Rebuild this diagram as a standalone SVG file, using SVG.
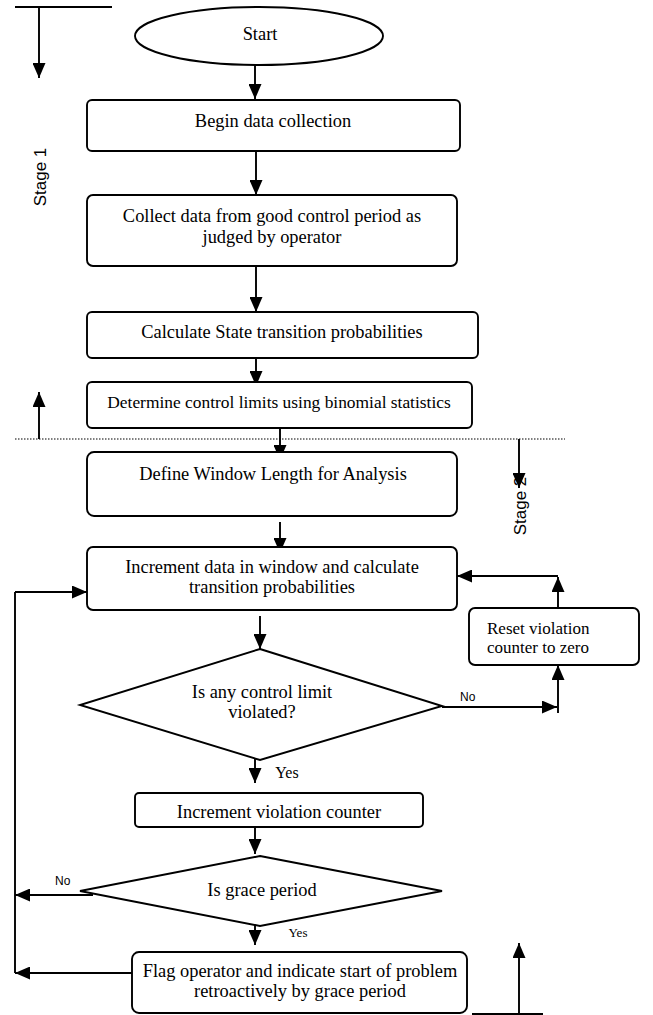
<svg xmlns="http://www.w3.org/2000/svg" width="653" height="1015" viewBox="0 0 653 1015">
<defs>
<style>
.box{fill:#fff;stroke:#000;stroke-width:1.9}
.ln{fill:none;stroke:#000;stroke-width:1.9}
.t{font-family:"Liberation Serif","Times New Roman",serif;font-size:18.4px;fill:#000;text-anchor:middle}
.tl{text-anchor:start;font-size:17px}
.s{font-family:"Liberation Sans",Arial,sans-serif;fill:#000}
</style>
<marker id="ah" viewBox="0 0 15 13" refX="15" refY="6.5" markerWidth="15" markerHeight="13" markerUnits="userSpaceOnUse" orient="auto">
<path d="M0,0 L15,6.5 L0,13 Z" fill="#000"/>
</marker>
</defs>
<rect width="653" height="1015" fill="#fff"/>

<g id="connectors">
<path class="ln" d="M15,7 H112"/>
<path class="ln" d="M39,7 V78" marker-end="url(#ah)"/>
<path class="ln" d="M255,53 V99" marker-end="url(#ah)"/>
<path class="ln" d="M256,151 V195" marker-end="url(#ah)"/>
<path class="ln" d="M256,266 V312" marker-end="url(#ah)"/>
<path class="ln" d="M256,358 V386" marker-end="url(#ah)"/>
<path class="ln" d="M15,439 H565" stroke-dasharray="1.5,1.5" style="stroke-width:1.2"/>
<path class="ln" d="M39,439 V392" marker-end="url(#ah)"/>
<path class="ln" d="M280,428 V460" marker-end="url(#ah)"/>
<path class="ln" d="M519,439 V488" marker-end="url(#ah)"/>
<path class="ln" d="M280,522 V553" marker-end="url(#ah)"/>
<path class="ln" d="M260,616 V649" marker-end="url(#ah)"/>
<path class="ln" d="M442,707 H557" marker-end="url(#ah)"/>
<path class="ln" d="M558,713 V665" marker-end="url(#ah)"/>
<path class="ln" d="M558,608 V577" marker-end="url(#ah)"/>
<path class="ln" d="M558,576 H457" marker-end="url(#ah)"/>
<path class="ln" d="M255,750 V783" marker-end="url(#ah)"/>
<path class="ln" d="M255,827 V854" marker-end="url(#ah)"/>
<path class="ln" d="M93,895 H15" marker-end="url(#ah)"/>
<path class="ln" d="M255,918 V945" marker-end="url(#ah)"/>
<path class="ln" d="M132,973 H15" marker-end="url(#ah)"/>
<path class="ln" d="M15,973 V592"/>
<path class="ln" d="M15,592 H87" marker-end="url(#ah)"/>
<path class="ln" d="M472,1014 H543"/>
<path class="ln" d="M519,1014 V943" marker-end="url(#ah)"/>
<text class="s" x="460" y="701" font-size="12">No</text>
<text class="t" x="287" y="778" style="font-size:16px">Yes</text>
<text class="s" x="55" y="885" font-size="12">No</text>
<text class="t" x="298" y="937" style="font-size:13px">Yes</text>
<text class="s" font-size="17" transform="translate(46,177) rotate(-90)" text-anchor="middle">Stage 1</text>
<text class="s" font-size="17" transform="translate(526,506) rotate(-90)" text-anchor="middle">Stage 2</text>
</g>

<g id="start">
<ellipse class="box" cx="259" cy="36" rx="124" ry="29" fill="none"/>
<text class="t" x="260" y="40">Start</text>
</g>
<g id="begin">
<rect class="box" x="87" y="100" width="373" height="51" rx="5"/>
<text class="t" x="273" y="127">Begin data collection</text>
</g>
<g id="collect">
<rect class="box" x="87" y="195" width="370" height="71" rx="6"/>
<text class="t" x="272" y="222">Collect data from good control period as</text>
<text class="t" x="272" y="243">judged by operator</text>
</g>
<g id="calculate">
<rect class="box" x="87" y="312" width="391" height="46" rx="5"/>
<text class="t" x="282" y="338">Calculate State transition probabilities</text>
</g>
<g id="determine">
<rect class="box" x="87" y="382" width="385" height="46" rx="5"/>
<text class="t" x="279" y="408" style="font-size:17.4px">Determine control limits using binomial statistics</text>
</g>
<g id="define">
<rect class="box" x="87" y="452" width="370" height="64" rx="7"/>
<text class="t" x="273" y="480">Define Window Length for Analysis</text>
</g>
<g id="increment">
<rect class="box" x="87" y="547" width="370" height="63" rx="6"/>
<text class="t" x="272" y="573">Increment data in window and calculate</text>
<text class="t" x="272" y="593">transition probabilities</text>
</g>
<g id="reset">
<rect class="box" x="469" y="608" width="170" height="57" rx="6"/>
<text class="t tl" x="487" y="634">Reset violation</text>
<text class="t tl" x="487" y="653">counter to zero</text>
</g>
<g id="violated">
<polygon class="box" points="260,649 442,706 260,760 80,705"/>
<text class="t" x="262" y="698">Is any control limit</text>
<text class="t" x="262" y="718">violated?</text>
</g>
<g id="incviol">
<rect class="box" x="135" y="793" width="288" height="34" rx="4"/>
<text class="t" x="279" y="818">Increment violation counter</text>
</g>
<g id="grace">
<polygon class="box" points="260,856 442,891 260,926 80,891"/>
<text class="t" x="262" y="896">Is grace period</text>
</g>
<g id="flag">
<rect class="box" x="132" y="952" width="335" height="61" rx="7"/>
<text class="t" x="300" y="977">Flag operator and indicate start of problem</text>
<text class="t" x="300" y="997">retroactively by grace period</text>
</g>
</svg>
